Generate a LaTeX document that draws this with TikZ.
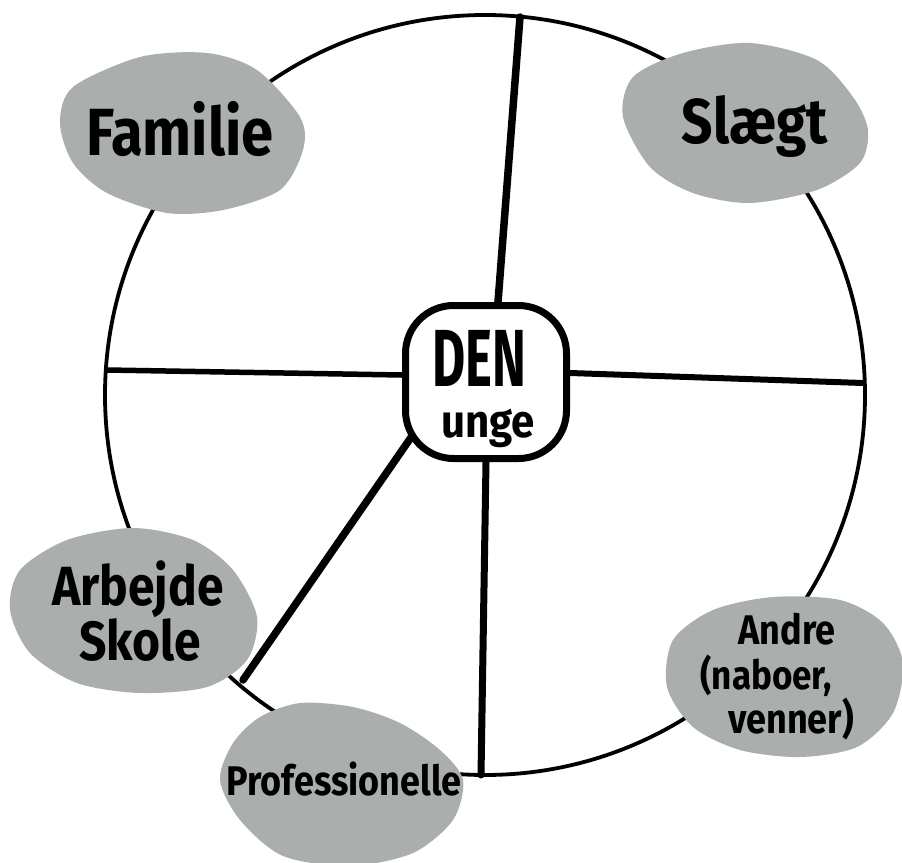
\documentclass[tikz,border=0pt]{standalone}
\usepackage{fontspec}
\setmainfont{Fira Sans}
\usetikzlibrary{calc}
\pgfdeclarelayer{bg}
\pgfsetlayers{bg,main}
\definecolor{blobgray}{RGB}{170,174,173}
\newcommand\tallt[2][1.15]{\scalebox{1}[#1]{#2}}
\tikzset{
  ring/.style={line width=3.8pt},
  spoke/.style={line width=#1, line cap=round},
  blob/.style={fill=blobgray},
  lbl/.style={inner sep=0pt, anchor=base, font=\bfseries\fontsize{#1}{#1}\selectfont},
  hub/.style={draw, line width=7pt, fill=white, rounded corners=48pt,
              minimum width=161pt, minimum height=153pt, inner sep=0pt}
}
\begin{document}
\begin{tikzpicture}[x=1pt,y=-1pt]
\useasboundingbox (0,0) rectangle (902,862);
% hub
\node[hub] (c) at (486,382) {};
% circle end points of spokes
\coordinate (eTop) at (520,17);
\coordinate (eLeft) at (107,370);
\coordinate (eRight) at (863,383);
\coordinate (eBot) at (481,775);
\coordinate (eDiag) at (243,680);
\begin{pgfonlayer}{bg}
  \draw[ring] (485,395) circle[radius=380pt];
  \draw[spoke=7.5pt, shorten <=-14pt] ($(c.north)+(12,0)$) -- (eTop);
  \draw[spoke=5.5pt, shorten <=-14pt] ($(c.west)+(0,-7)$) -- (eLeft);
  \draw[spoke=6pt, shorten <=-14pt] ($(c.east)+(0,-9)$) -- (eRight);
  \draw[spoke=7pt, shorten <=-14pt] (c.south) -- (eBot);
  \draw[spoke=7.5pt, shorten <=-22pt] ($(c.west)+(10,54)$) -- (eDiag);
\end{pgfonlayer}
% blobs
\fill[blob] plot[smooth cycle] coordinates {(73,87) (140,57) (207,53) (257,70) (300,117) (303,150) (280,190) (223,210) (167,213) (107,193) (73,163) (60,123)};
\fill[blob] plot[smooth cycle] coordinates {(633,77) (683,53) (750,43) (817,60) (853,97) (868,130) (860,163) (817,190) (750,203) (693,193) (650,167) (623,117)};
\fill[blob] plot[smooth cycle] coordinates {(20,570) (67,540) (133,528) (193,540) (233,570) (257,617) (247,660) (207,687) (140,693) (77,683) (30,653) (10,610)};
\fill[blob] plot[smooth cycle] coordinates {(673,640) (713,610) (773,597) (840,600) (883,623) (903,663) (893,713) (857,747) (800,757) (740,750) (693,727) (667,687)};
\fill[blob] plot[smooth cycle] coordinates {(233,743) (260,717) (300,703) (353,707) (400,723) (440,750) (463,780) (453,820) (413,853) (350,866) (283,856) (240,820) (220,780)};
% labels
\node[lbl=58] (famT) at (180,155) {\tallt{Familie}};
\node[lbl=55] (slaT) at (755,143) {\tallt{Slægt}};
\node[lbl=60] (denT) at (479,386) {\scalebox{0.85}[1.35]{DEN}};
\node[lbl=42] (ungeT) at (488,437) {\tallt[1.1]{unge}};
\node[lbl=48] (arbT) at (138,605) {\tallt{Arbejde}};
\node[lbl=48] (skoT) at (140,660) {\tallt{Skole}};
\node[lbl=36] (andT) at (787,644) {\tallt{Andre}};
\node[lbl=35] (nabT) at (766,689) {\tallt{(naboer,}};
\node[lbl=36] (venT) at (791,733) {\tallt{venner)}};
\node[lbl=36] (proT) at (344,795) {\tallt{Professionelle}};
\end{tikzpicture}
\end{document}
